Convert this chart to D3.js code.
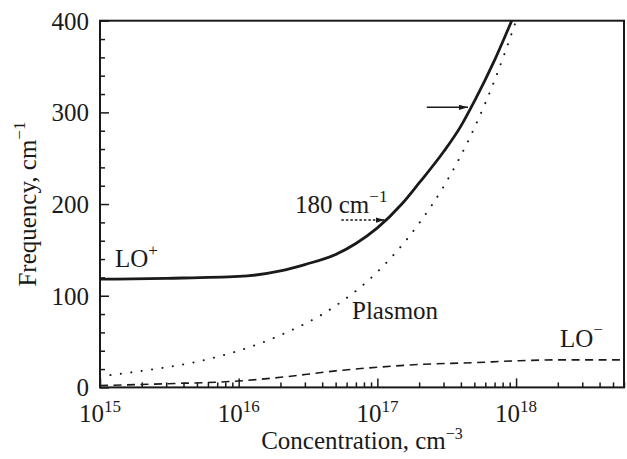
<!DOCTYPE html>
<html>
<head>
<meta charset="utf-8">
<script src="https://cdnjs.cloudflare.com/ajax/libs/d3/7.8.5/d3.min.js"></script>
<style>
  body { margin: 0; background: #fff; }
  text { font-family: "Liberation Serif", "Times New Roman", serif; fill: #1a1a1a; }
</style>
</head>
<body>
<div id="chart"></div>
<script>
// concentration (cm^-3) and frequency (cm^-1)
var loPlusN = [1e15, 3e15, 1e16, 2e16, 3e16, 5e16, 7e16, 1e17, 1.5e17, 2e17, 3e17, 4e17, 5e17, 7e17, 9.3e17];
var loPlusF = [118, 119, 121, 127, 134, 145, 157, 174, 200, 223, 257, 285, 312, 357, 400];

var plasmonN = [1e15, 2e15, 5e15, 1e16, 2e16, 5e16, 1e17, 2e17, 3e17, 5e17, 7e17, 1e18];
var plasmonF = [12, 18, 28, 40, 57, 89, 126, 179, 219, 283, 335, 400];

var loMinusN = [1e15, 3e15, 1e16, 2e16, 3e16, 5e16, 1e17, 2e17, 5e17, 1e18, 2e18, 5.6e18];
var loMinusF = [2, 4, 7, 11, 14, 18, 22, 25, 27, 29, 30, 30];

var xMajorTicks = [1e15, 1e16, 1e17, 1e18];
var xTickExponents = ["15", "16", "17", "18"];
var yMajorTicks = [0, 100, 200, 300, 400];

var width = 627,
  height = 459;
var margin = { top: 20.7, right: 3, bottom: 71.6, left: 100 };

var x = d3.scaleLog().domain([1e15, 6e18]).range([margin.left, width - margin.right]);
var y = d3.scaleLinear().domain([0, 400]).range([height - margin.bottom, margin.top]);

var svg = d3
  .select("#chart")
  .append("svg")
  .attr("width", width)
  .attr("height", height);

var defs = svg.append("defs");
defs
  .append("clipPath")
  .attr("id", "plot-clip")
  .append("rect")
  .attr("x", margin.left)
  .attr("y", margin.top)
  .attr("width", width - margin.left - margin.right)
  .attr("height", height - margin.top - margin.bottom);

defs
  .append("marker")
  .attr("id", "head")
  .attr("viewBox", "0 0 10 6")
  .attr("refX", 10)
  .attr("refY", 3)
  .attr("markerUnits", "userSpaceOnUse")
  .attr("markerWidth", 9)
  .attr("markerHeight", 6)
  .attr("orient", "auto")
  .append("path")
  .attr("d", "M0,0L10,3L0,6Z")
  .attr("fill", "#1a1a1a");

// minor ticks
var xMinor = [];
for (var e = 15; e <= 18; e++) {
  for (var m = 2; m <= 9; m++) {
    if (m * Math.pow(10, e) <= 6e18) xMinor.push(m * Math.pow(10, e));
  }
}
var yMinor = d3.range(0, 401, 20).filter(function(v) {
  return v % 100 !== 0;
});

function styleAxis(g) {
  g.select(".domain").remove();
  g.selectAll(".tick line").attr("stroke", "#1a1a1a").attr("stroke-width", 1.5);
}

svg
  .append("g")
  .attr("transform", "translate(0," + y(0) + ")")
  .call(d3.axisBottom(x).tickValues(xMinor).tickSize(-5).tickFormat(""))
  .call(styleAxis);
svg
  .append("g")
  .attr("transform", "translate(0," + y(0) + ")")
  .call(d3.axisBottom(x).tickValues(xMajorTicks).tickSize(-9).tickFormat(""))
  .call(styleAxis);

svg
  .append("g")
  .attr("transform", "translate(" + x(1e15) + ",0)")
  .call(d3.axisLeft(y).tickValues(yMinor).tickSize(-5).tickFormat(""))
  .call(styleAxis);
var yAxis = svg
  .append("g")
  .attr("transform", "translate(" + x(1e15) + ",0)")
  .call(d3.axisLeft(y).tickValues(yMajorTicks).tickSize(-9).tickPadding(11))
  .call(styleAxis);
yAxis
  .selectAll(".tick text")
  .attr("font-size", 25)
  .attr("font-family", "Liberation Serif")
  .attr("fill", "#1a1a1a")
  .attr("dy", "0.34em");

// x tick labels with superscript exponents
var xLabels = svg
  .append("g")
  .selectAll("text")
  .data(xMajorTicks)
  .enter()
  .append("text")
  .attr("x", function(d) {
    return x(d);
  })
  .attr("y", 422)
  .attr("text-anchor", "middle")
  .attr("font-size", 25);
xLabels.append("tspan").text("10");
xLabels
  .append("tspan")
  .attr("font-size", 17)
  .attr("dy", -10)
  .text(function(d, i) {
    return xTickExponents[i];
  });

// frame
svg
  .append("rect")
  .attr("x", margin.left)
  .attr("y", margin.top)
  .attr("width", width - margin.left - margin.right)
  .attr("height", height - margin.top - margin.bottom)
  .attr("fill", "none")
  .attr("stroke", "#1a1a1a")
  .attr("stroke-width", 2);

// curves
var line = d3
  .line()
  .x(function(d) {
    return x(d[0]);
  })
  .y(function(d) {
    return y(d[1]);
  })
  .curve(d3.curveMonotoneX);

var plot = svg.append("g").attr("clip-path", "url(#plot-clip)");

plot
  .append("path")
  .datum(d3.zip(plasmonN, plasmonF))
  .attr("d", line)
  .attr("fill", "none")
  .attr("stroke", "#1a1a1a")
  .attr("stroke-width", 2)
  .attr("stroke-linecap", "round")
  .attr("stroke-dasharray", "0.1,10.4");

plot
  .append("path")
  .datum(d3.zip(loMinusN, loMinusF))
  .attr("d", line)
  .attr("fill", "none")
  .attr("stroke", "#1a1a1a")
  .attr("stroke-width", 1.6)
  .attr("stroke-dasharray", "8,5.5");

plot
  .append("path")
  .datum(d3.zip(loPlusN, loPlusF))
  .attr("d", line)
  .attr("fill", "none")
  .attr("stroke", "#1a1a1a")
  .attr("stroke-width", 2.8);

// arrows
svg
  .append("line")
  .attr("x1", x(2.27e17))
  .attr("x2", x(4.5e17))
  .attr("y1", y(305.5))
  .attr("y2", y(305.5))
  .attr("stroke", "#1a1a1a")
  .attr("stroke-width", 1.5)
  .attr("marker-end", "url(#head)");

svg
  .append("line")
  .attr("x1", x(5.5e16))
  .attr("x2", x(1.13e17))
  .attr("y1", y(182.6))
  .attr("y2", y(182.6))
  .attr("stroke", "#1a1a1a")
  .attr("stroke-width", 1.4)
  .attr("stroke-dasharray", "2.5,2")
  .attr("marker-end", "url(#head)");

// annotations
function label(xPos, yPos, main, sup, supDy) {
  var t = svg
    .append("text")
    .attr("x", xPos)
    .attr("y", yPos)
    .attr("font-size", 25);
  t.append("tspan").text(main);
  if (sup) {
    t.append("tspan")
      .attr("font-size", 17)
      .attr("dy", supDy)
      .text(sup);
  }
  return t;
}

label(115, 267, "LO", "+", -11);
label(295, 213, "180 cm", "\u22121", -11);
label(352, 319, "Plasmon");
label(560, 347, "LO", "\u2212", -12);

// axis titles
var xTitle = svg
  .append("text")
  .attr("x", (margin.left + width - margin.right) / 2)
  .attr("y", 449)
  .attr("text-anchor", "middle")
  .attr("font-size", 25);
xTitle.append("tspan").text("Concentration, cm");
xTitle
  .append("tspan")
  .attr("font-size", 16)
  .attr("dy", -10)
  .text("\u22123");

var yTitle = svg
  .append("text")
  .attr("transform", "translate(36," + (margin.top + height - margin.bottom) / 2 + ") rotate(-90)")
  .attr("text-anchor", "middle")
  .attr("font-size", 25);
yTitle.append("tspan").text("Frequency, cm");
yTitle
  .append("tspan")
  .attr("font-size", 17)
  .attr("dy", -11)
  .text("\u22121");
</script>
</body>
</html>
